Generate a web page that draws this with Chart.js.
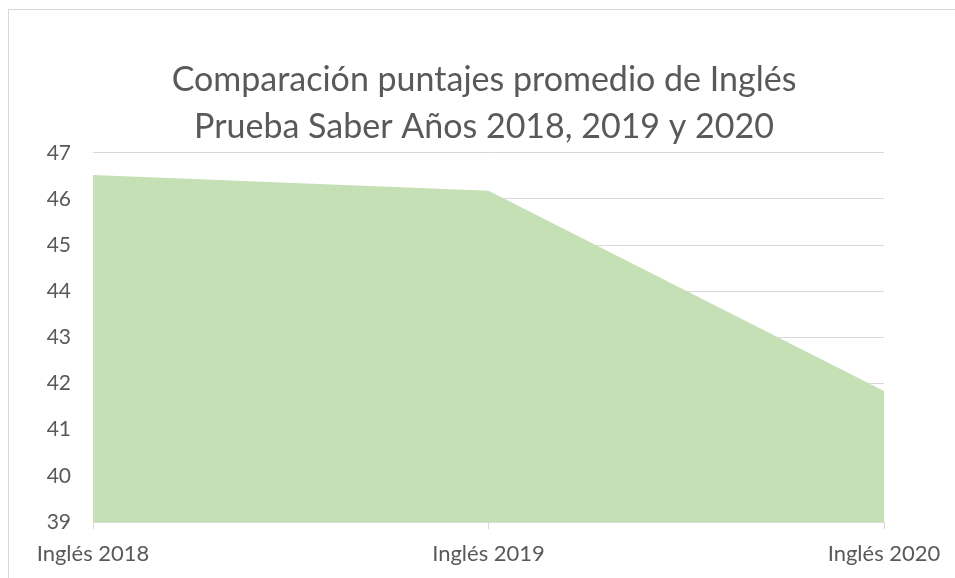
<!DOCTYPE html>
<html>
<head>
<meta charset="utf-8">
<script src="https://cdn.jsdelivr.net/npm/chart.js@4.4.1/dist/chart.umd.min.js"></script>
<style>
  html, body { margin: 0; padding: 0; background: #fff; overflow: hidden; }
  #frame { position: absolute; left: 8px; top: 9px; width: 1200px; height: 900px; border: 1px solid #D9D9D9; box-sizing: border-box; }
  #wrap { position: absolute; left: 0; top: 0; width: 955px; height: 578px; }
</style>
</head>
<body>
<div id="frame"></div>
<div id="wrap"><canvas id="chart"></canvas></div>
<script>
const categories = ['Inglés 2018', 'Inglés 2019', 'Inglés 2020'];
const scores = [46.52, 46.18, 41.84];
const titleLines = ['Comparación puntajes promedio de Inglés', 'Prueba Saber Años 2018, 2019 y 2020'];
const yMin = 39;
const yMax = 47;

const font = 'Lato, "Open Sans", sans-serif';
const textColor = '#595959';
const gridColor = '#D9D9D9';

new Chart(document.getElementById('chart'), {
    type: 'line',
    data: {
        labels: categories,
        datasets: [{
            data: scores,
            fill: 'start',
            backgroundColor: '#C5E0B4',
            borderWidth: 0,
            pointRadius: 0,
            tension: 0
        }]
    },
    options: {
        responsive: true,
        maintainAspectRatio: false,
        animation: false,
        // small left padding so the full-width title is centred like the original
        layout: { padding: { left: 13, right: 0, top: 0, bottom: 0 } },
        plugins: {
            legend: { display: false },
            tooltip: { enabled: false },
            title: {
                display: true,
                text: titleLines,
                color: textColor,
                font: { family: font, size: 34, weight: 'normal', lineHeight: 1.38 },
                padding: { top: 57, bottom: 2 }
            }
        },
        scales: {
            x: {
                grid: { drawOnChartArea: false, drawTicks: true, tickLength: 7, color: gridColor },
                border: { display: true, color: gridColor },
                ticks: { color: textColor, font: { family: font, size: 22 }, padding: 12, maxRotation: 0 },
                afterFit: (scale) => { scale.height = 56; }
            },
            y: {
                min: yMin,
                max: yMax,
                grid: { color: gridColor, drawTicks: false },
                border: { display: false },
                ticks: { stepSize: 1, color: textColor, font: { family: font, size: 21 }, padding: 22 },
                afterFit: (scale) => { scale.width = 80; }
            },
            // empty right-hand axis, only reserves the blank space right of the plot
            spacer: {
                position: 'right',
                display: true,
                grid: { display: false },
                border: { display: false },
                ticks: { display: false },
                afterFit: (scale) => { scale.width = 71; }
            }
        }
    }
});
</script>
</body>
</html>
